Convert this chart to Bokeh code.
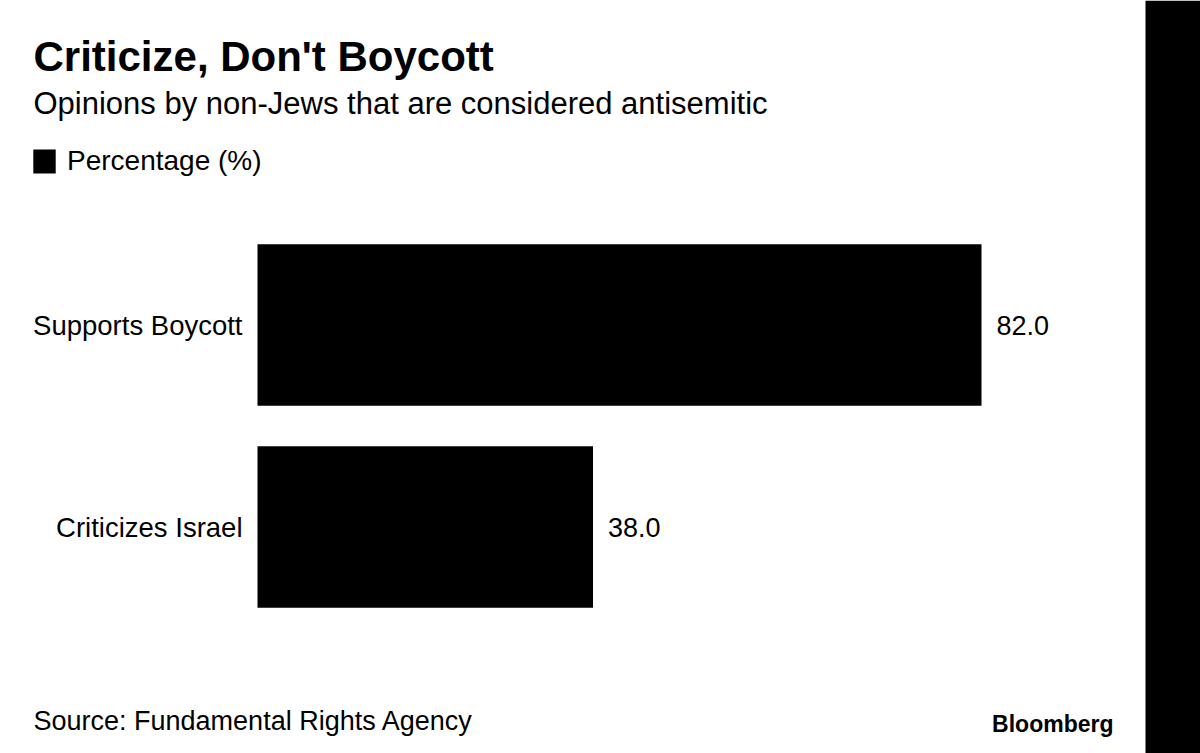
from bokeh.plotting import figure
from bokeh.models import (ColumnDataSource, FactorRange, Range1d, LabelSet, Label,
                          BoxAnnotation, Legend, LegendItem)
from bokeh.transform import dodge
from bokeh.core.properties import value
from bokeh.embed import file_html
from bokeh.resources import INLINE

# ---- data ----
categories = ["Criticizes Israel", "Supports Boycott"]
values = [38.0, 82.0]
value_labels = [f"{v:.1f}" for v in values]
series_name = "Percentage (%)"

title_text = "Criticize, Don't Boycott"
subtitle_text = "Opinions by non-Jews that are considered antisemitic"
source_text = "Source: Fundamental Rights Agency"
brand_text = "Bloomberg"

FONT = "Liberation Sans"

src = ColumnDataSource(dict(cat=categories, val=values, lab=value_labels,
                            zero=[0] * len(categories)))

W, H = 1200, 753
PX_PER_UNIT = 724 / 82.0        # horizontal scale
X0_PX = 257                     # pixel where value 0 sits
BAND_PX = 202                   # pixels per category band
total_units = H / BAND_PX
y_range = FactorRange(factors=categories,
                      range_padding=(total_units - len(categories)) / 2,
                      range_padding_units="absolute")
y_shift = -49 / BAND_PX         # shift of bars inside the canvas

p = figure(width=W, height=H, output_backend="svg", toolbar_location=None,
           y_range=y_range,
           x_range=Range1d(-X0_PX / PX_PER_UNIT, (W - X0_PX) / PX_PER_UNIT),
           min_border=0, min_border_left=0, min_border_right=0,
           min_border_top=0, min_border_bottom=0)
p.background_fill_color = "white"
p.border_fill_color = "white"
p.outline_line_color = None
p.grid.visible = False
p.xaxis.visible = False
p.yaxis.visible = False

ypos = dodge("cat", y_shift, range=y_range)

r = p.hbar(y=ypos, right="val", left=0, height=0.8, source=src,
           fill_color="black", line_color=None)

p.add_layout(LabelSet(x="val", y=ypos, text="lab", source=src, x_offset=15,
                      text_baseline="middle", text_align="left",
                      text_font=value(FONT), text_font_size=value("27px"),
                      text_color="black"))
p.add_layout(LabelSet(x="zero", y=ypos, text="cat", source=src, x_offset=-15,
                      text_baseline="middle", text_align="right",
                      text_font=value(FONT), text_font_size=value("27.5px"),
                      text_color="black"))

# black strip on the right
p.add_layout(BoxAnnotation(left=1145, left_units="screen",
                           fill_color="black", fill_alpha=1, line_color=None))

def add_text(txt, x, y_from_top, size, bold=False, align="left"):
    p.add_layout(Label(x=x, y=H - y_from_top, x_units="screen", y_units="screen",
                       text=txt, text_font=FONT, text_font_size=size,
                       text_font_style="bold" if bold else "normal",
                       text_color="black", text_align=align,
                       text_baseline="alphabetic"))

add_text(title_text, 33, 56, "42px", bold=True)
add_text(subtitle_text, 33, 103, "31px")
add_text(source_text, 33, 720, "27px")
add_text(brand_text, 1113, 723, "23px", bold=True, align="right")

legend = Legend(items=[LegendItem(label=series_name, renderers=[r])],
                location=(30, H - 177), orientation="horizontal",
                glyph_width=28, glyph_height=30, label_standoff=9,
                padding=0, margin=0, spacing=0,
                border_line_color=None, background_fill_alpha=0,
                label_text_font=FONT, label_text_font_size="28px",
                label_text_color="black")
p.add_layout(legend)

open("out.html", "w").write(file_html(p, INLINE))
